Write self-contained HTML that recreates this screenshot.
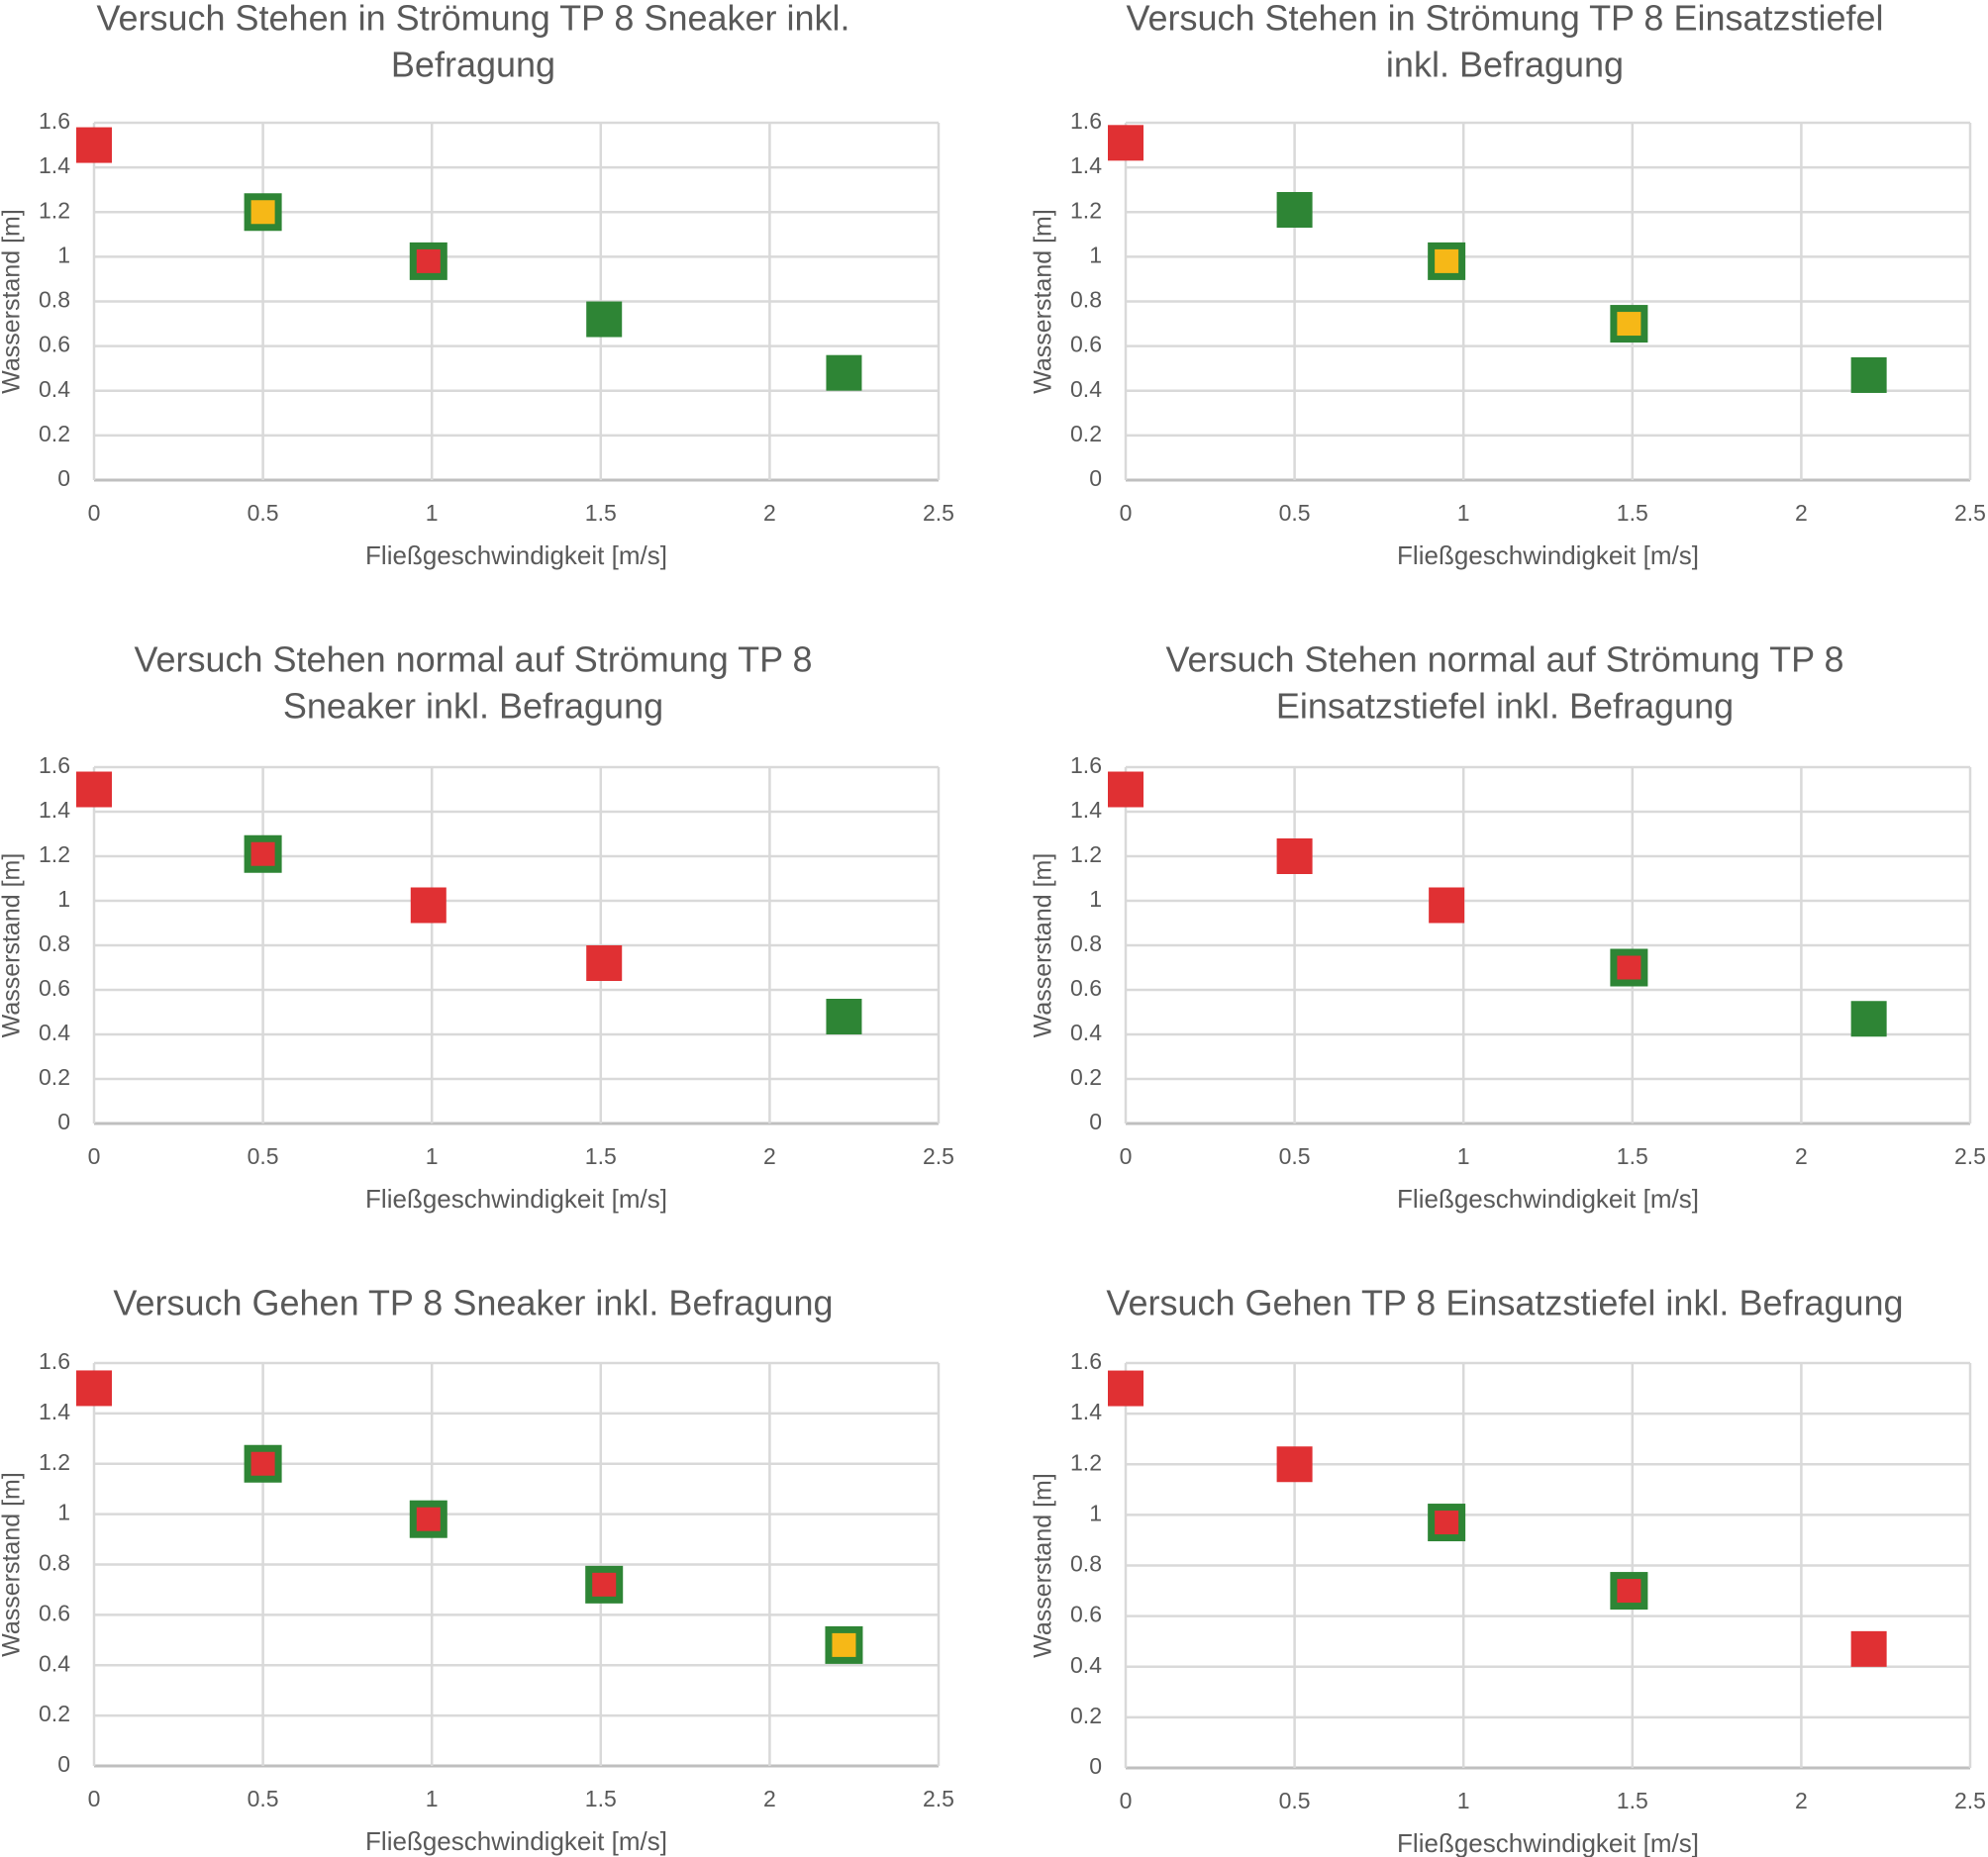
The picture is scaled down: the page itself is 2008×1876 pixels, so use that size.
<!DOCTYPE html>
<html><head><meta charset="utf-8"><style>
html,body{margin:0;padding:0;background:#fff;}
svg{display:block;}
text{font-family:"Liberation Sans Narrow","Liberation Sans",sans-serif;fill:#595959;}
</style></head><body>
<svg id="root" width="2008" height="1876" viewBox="0 0 2008 1876"></svg>
<script>
const xTicks = [0, 0.5, 1, 1.5, 2, 2.5];
const yTicks = [0, 0.2, 0.4, 0.6, 0.8, 1, 1.2, 1.4, 1.6];
const xTickLabels = ["0","0.5","1","1.5","2","2.5"];
const yTickLabels = ["0","0.2","0.4","0.6","0.8","1","1.2","1.4","1.6"];

const titles = [
  ["Versuch Stehen in Strömung TP 8 Sneaker inkl.","Befragung"],
  ["Versuch Stehen in Strömung TP 8 Einsatzstiefel","inkl. Befragung"],
  ["Versuch Stehen normal auf Strömung TP 8","Sneaker inkl. Befragung"],
  ["Versuch Stehen normal auf Strömung TP 8","Einsatzstiefel inkl. Befragung"],
  ["Versuch Gehen TP 8 Sneaker inkl. Befragung"],
  ["Versuch Gehen TP 8 Einsatzstiefel inkl. Befragung"]
];

const xValsL = [0, 0.5, 0.99, 1.51, 2.22];
const xValsR = [0, 0.5, 0.95, 1.49, 2.2];

const yVals1 = [1.5, 1.2, 0.98, 0.72, 0.48];
const yVals2 = [1.51, 1.21, 0.98, 0.70, 0.47];
const yVals3 = [1.5, 1.21, 0.98, 0.72, 0.48];
const yVals4 = [1.5, 1.2, 0.98, 0.70, 0.47];
const yVals5 = [1.5, 1.2, 0.98, 0.72, 0.48];
const yVals6 = [1.5, 1.2, 0.97, 0.70, 0.47];

// marker kind: r=red, g=green, yb=yellow w/ green border, rb=red w/ green border
const kinds1 = ["r","yb","rb","g","g"];
const kinds2 = ["r","g","yb","yb","g"];
const kinds3 = ["r","rb","r","r","g"];
const kinds4 = ["r","r","r","rb","g"];
const kinds5 = ["r","rb","rb","rb","yb"];
const kinds6 = ["r","r","rb","rb","r"];

const series = [
  [xValsL,yVals1,kinds1],[xValsR,yVals2,kinds2],
  [xValsL,yVals3,kinds3],[xValsR,yVals4,kinds4],
  [xValsL,yVals5,kinds5],[xValsR,yVals6,kinds6]
];

const layout = [
  {l:95,r:948,t:124,b:485,tx:478,title:[9,56]},
  {l:1137,r:1990,t:124,b:485,tx:1520,title:[9,56]},
  {l:95,r:948,t:775,b:1135,tx:478,title:[657,704]},
  {l:1137,r:1990,t:775,b:1135,tx:1520,title:[657,704]},
  {l:95,r:948,t:1377,b:1784,tx:478,title:[1307]},
  {l:1137,r:1990,t:1377,b:1786,tx:1520,title:[1307]}
];

const NS="http://www.w3.org/2000/svg";
const root=document.getElementById('root');
function mk(tag,attrs,parent){const e=document.createElementNS(NS,tag);for(const k in attrs)e.setAttribute(k,attrs[k]);parent.appendChild(e);return e;}
const COL={r:"#e03033",g:"#2e8535",y:"#f6b817"};

layout.forEach((L,ci)=>{
  const g=mk('g',{},root);
  
  
  const xs=v=>L.l+(v-0)/2.5*(L.r-L.l);
  const ys=v=>L.b-(v/1.6)*(L.b-L.t);
  const cx=(L.l+L.r)/2;
  titles[ci].forEach((line,i)=>{
    const t=mk('text',{x:L.tx,y:L.title[i]+12,'text-anchor':'middle','font-size':36,'dominant-baseline':'middle'},g);
    t.textContent=line;
    
    
  });
  yTicks.forEach((v,i)=>{
    const ln=mk('line',{x1:L.l,x2:L.r,y1:ys(v),y2:ys(v),stroke:i===0?'#bfbfbf':'#d9d9d9','stroke-width':i===0?3:2.5},g);
    
    
    const t=mk('text',{x:L.l-24,y:ys(v),'text-anchor':'end','dominant-baseline':'middle','font-size':23},g);
    t.textContent=yTickLabels[i];
    
    
  });
  xTicks.forEach((v,i)=>{
    const ln=mk('line',{x1:xs(v),x2:xs(v),y1:L.t,y2:L.b,stroke:'#d9d9d9','stroke-width':2.5},g);
    
    
    const t=mk('text',{x:xs(v),y:L.b+35,'text-anchor':'middle','dominant-baseline':'middle','font-size':23},g);
    t.textContent=xTickLabels[i];
    
    
  });
  const xt=mk('text',{x:cx,y:L.b+78,'text-anchor':'middle','dominant-baseline':'middle','font-size':26},g);
  xt.textContent='Fließgeschwindigkeit [m/s]';
  
  
  const yc=(L.t+L.b)/2, yx=L.l-82;
  const yt=mk('text',{x:yx,y:yc,'text-anchor':'middle','dominant-baseline':'middle','font-size':25,transform:`rotate(-90 ${yx} ${yc})`},g);
  yt.textContent='Wasserstand [m]';
  
  
  const [xv,yv,kd]=series[ci];
  xv.forEach((x,i)=>{
    const px=xs(x), py=ys(yv[i]), k=kd[i];
    let m;
    if(k==='r'||k==='g'){
      m=mk('rect',{x:px-18,y:py-18,width:36,height:36,fill:COL[k]},g);
    } else {
      m=mk('g',{},g);
      mk('rect',{x:px-19,y:py-19,width:38,height:38,fill:COL.g},m);
      mk('rect',{x:px-12,y:py-12,width:24,height:24,fill:k==='yb'?COL.y:COL.r},m);
    }
    
    
  });
});
</script>
</body></html>
